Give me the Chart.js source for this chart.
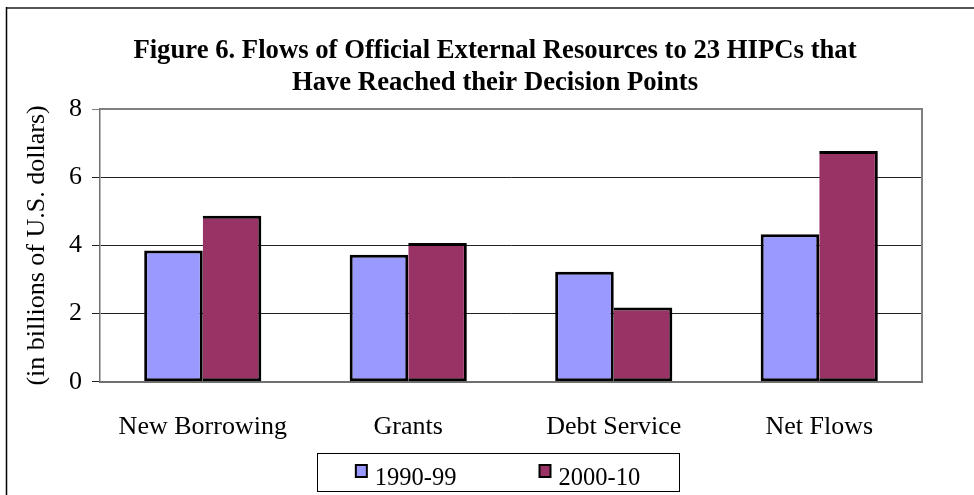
<!DOCTYPE html>
<html>
<head>
<meta charset="utf-8">
<script src="https://cdn.jsdelivr.net/npm/chart.js@4.4.1/dist/chart.umd.min.js"></script>
<style>
  html, body { margin: 0; padding: 0; background: #ffffff; }
  #wrap { width: 974px; height: 495px; position: relative; }
</style>
</head>
<body>
<div id="wrap"><canvas id="c" width="974" height="495"></canvas></div>
<script>
const categories = ['New Borrowing', 'Grants', 'Debt Service', 'Net Flows'];
const series1990 = [3.85, 3.73, 3.23, 4.33];
const series2000 = [4.87, 4.07, 2.18, 6.77];
const seriesLabels = ['1990-99', '2000-10'];
const titleLines = ['Figure 6. Flows of Official External Resources to 23 HIPCs that', 'Have Reached their Decision Points'];
const yAxisTitle = '(in billions of U.S. dollars)';
const yMin = 0, yMax = 8, yStep = 2;

const SERIF = '"Liberation Serif", "Times New Roman", serif';

const framePlugin = {
  id: 'frame',
  beforeDraw(chart) {
    const ctx = chart.ctx;
    ctx.save();
    ctx.strokeStyle = '#555555';
    ctx.lineWidth = 2;
    ctx.beginPath();
    ctx.moveTo(6, 8); ctx.lineTo(chart.width, 8);
    ctx.stroke();
    ctx.strokeStyle = '#000000';
    ctx.lineWidth = 1.5;
    ctx.beginPath();
    ctx.moveTo(6.5, 7); ctx.lineTo(6.5, chart.height);
    ctx.stroke();
    ctx.restore();
  },
  beforeDatasetsDraw(chart) {
    const a = chart.chartArea, ctx = chart.ctx;
    ctx.save();
    ctx.strokeStyle = '#808080';
    ctx.lineWidth = 2;
    ctx.beginPath();
    ctx.moveTo(a.left, a.top); ctx.lineTo(a.right, a.top); ctx.lineTo(a.right, a.bottom);
    ctx.stroke();
    ctx.restore();
  }
};

const boxLegendPlugin = {
  id: 'boxLegend',
  afterDraw(chart, args, opts) {
    const ctx = chart.ctx;
    const bx = opts.left, by = opts.top, bw = opts.width, bh = opts.height;
    ctx.save();
    ctx.strokeStyle = '#000000';
    ctx.lineWidth = 1;
    ctx.strokeRect(bx + 0.5, by + 0.5, bw, bh);
    ctx.font = opts.fontSize + 'px ' + SERIF;
    ctx.textBaseline = 'alphabetic';
    ctx.textAlign = 'left';
    const sw = 11, sh = 12, gapText = 8, gapItem = opts.gap;
    const items = chart.data.datasets.map(d => ({ text: d.label, color: d.backgroundColor, w: ctx.measureText(d.label).width }));
    let total = 0;
    items.forEach((it, i) => { total += sw + gapText + it.w + (i ? gapItem : 0); });
    let x = bx + bw / 2 - total / 2;
    items.forEach(it => {
      ctx.fillStyle = it.color;
      ctx.fillRect(x, by + 12, sw, sh);
      ctx.strokeStyle = '#000000';
      ctx.lineWidth = 2;
      ctx.strokeRect(x, by + 12, sw, sh);
      ctx.fillStyle = '#000000';
      ctx.fillText(it.text, x + sw + gapText, by + 32);
      x += sw + gapText + it.w + gapItem;
    });
    ctx.restore();
  }
};

new Chart(document.getElementById('c'), {
  type: 'bar',
  data: {
    labels: categories,
    datasets: [
      {
        label: seriesLabels[0],
        data: series1990,
        backgroundColor: '#9999FF',
        borderColor: '#000000',
        borderWidth: 3,
        borderSkipped: false,
        categoryPercentage: 0.57,
        barPercentage: 1.0
      },
      {
        label: seriesLabels[1],
        data: series2000,
        backgroundColor: '#993366',
        borderColor: '#000000',
        borderWidth: { top: 3, right: 3, bottom: 3, left: 0 },
        borderSkipped: false,
        categoryPercentage: 0.57,
        barPercentage: 1.0
      }
    ]
  },
  options: {
    responsive: false,
    animation: false,
    devicePixelRatio: 1,
    layout: { padding: { top: 8, left: 16, right: 0, bottom: 22 } },
    plugins: {
      legend: { display: false },
      tooltip: { enabled: false },
      title: {
        display: true,
        text: titleLines,
        color: '#000000',
        font: { family: SERIF, size: 26.7, weight: 'bold', lineHeight: 1.2 },
        padding: { top: 27, bottom: 10 }
      },
      boxLegend: { left: 317, top: 453, width: 362, height: 38, gap: 83, fontSize: 24.5 }
    },
    scales: {
      x: {
        type: 'category',
        grid: { display: false, drawTicks: false },
        border: { display: true, color: '#707070', width: 2 },
        ticks: { color: '#000000', font: { family: SERIF, size: 26 }, padding: 30, maxRotation: 0, autoSkip: false }
      },
      y: {
        type: 'linear',
        position: 'left',
        min: yMin,
        max: yMax,
        afterFit: (s) => { s.width = 84; },
        ticks: { stepSize: yStep, color: '#000000', font: { family: SERIF, size: 26 }, padding: 10 },
        grid: {
          drawTicks: true,
          tickLength: 8,
          lineWidth: 1,
          color: (c) => (c.tick && c.tick.value === yMax) ? '#808080' : '#222222'
        },
        border: { display: true, color: '#707070', width: 1.5 },
        title: { display: true, text: yAxisTitle, color: '#000000', font: { family: SERIF, size: 26 }, padding: { top: 6, bottom: 0 } }
      },
      yR: {
        type: 'linear',
        position: 'right',
        display: true,
        afterFit: (s) => { s.width = 52; },
        grid: { display: false, drawTicks: false },
        ticks: { display: false },
        border: { display: false }
      }
    }
  },
  plugins: [framePlugin, boxLegendPlugin]
});
</script>
</body>
</html>
